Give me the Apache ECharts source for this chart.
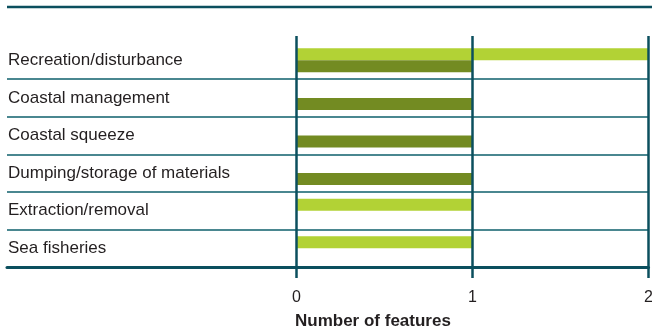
<!DOCTYPE html>
<html>
<head>
<meta charset="utf-8">
<script src="https://cdn.jsdelivr.net/npm/echarts@6/dist/echarts.min.js"></script>
<style>
  html, body { margin: 0; padding: 0; background: #fff; }
  #chart { width: 652px; height: 332px; }
</style>
</head>
<body>
<div id="chart"></div>
<script>
// pressure categories, top to bottom
let categories = ['Recreation/disturbance', 'Coastal management', 'Coastal squeeze',
    'Dumping/storage of materials', 'Extraction/removal', 'Sea fisheries'];
// light green series and dark green series (number of features)
let lightValues = [2, null, null, null, 1, 1];
let darkValues = [1, 1, 1, 1, null, null];
let xTicks = [0, 1, 2];

let teal = '#0b4f5e';
let font = '"Liberation Sans", Arial, sans-serif';

let myChart = echarts.init(document.getElementById('chart'));
let option = {
    animation: false,
    textStyle: { fontFamily: font },
    title: {
        text: 'Number of features',
        left: 295,
        top: 313,
        padding: 0,
        textStyle: { fontFamily: font, fontSize: 17, fontWeight: 'bold', color: '#231f20' }
    },
    graphic: [{
        type: 'line',
        shape: { x1: 7, y1: 7, x2: 652, y2: 7 },
        style: { stroke: teal, lineWidth: 2.5 }
    }],
    grid: [
        // grid with the value gridlines and tick labels
        { left: 296.5, right: 3.5, top: 36, bottom: 54, outerBoundsMode: 'none' },
        // grid with the bars and row separators
        { left: 7, right: 3.5, top: 41.5, bottom: 65, outerBoundsMode: 'none' }
    ],
    xAxis: [
        {
            gridIndex: 0,
            type: 'value',
            min: xTicks[0],
            max: xTicks[xTicks.length - 1],
            interval: 1,
            axisLine: { show: false },
            axisTick: { show: false },
            axisLabel: { fontSize: 16, color: '#231f20', margin: 12 },
            splitLine: { lineStyle: { color: teal, width: 2.5 } },
            z: 5
        },
        {
            gridIndex: 1,
            type: 'value',
            // extend the scale left so the row lines run under the labels
            min: -1.645,
            max: 2,
            axisLabel: { show: false },
            axisTick: { show: false },
            splitLine: { show: false },
            axisLine: { show: true, lineStyle: { color: teal, width: 3 } }
        }
    ],
    yAxis: [
        { gridIndex: 0, type: 'value', show: false },
        {
            gridIndex: 1,
            type: 'category',
            inverse: true,
            data: categories,
            axisLine: { show: false },
            axisTick: { show: false },
            axisLabel: {
                inside: true,
                margin: 1,
                fontSize: 17,
                color: '#231f20',
                padding: [3, 0, 0, 0]
            },
            splitLine: {
                show: true,
                lineStyle: {
                    color: ['rgba(0,0,0,0)', '#4a8790', '#4a8790', '#4a8790', '#4a8790', '#4a8790', 'rgba(0,0,0,0)'],
                    width: 2
                }
            }
        }
    ],
    series: [
        {
            type: 'bar',
            xAxisIndex: 1,
            yAxisIndex: 1,
            data: lightValues,
            barWidth: 12,
            barGap: '0%',
            itemStyle: { color: '#b2d235' }
        },
        {
            type: 'bar',
            xAxisIndex: 1,
            yAxisIndex: 1,
            data: darkValues,
            barWidth: 12,
            barGap: '0%',
            itemStyle: { color: '#738b22' }
        }
    ]
};
myChart.setOption(option);
</script>
</body>
</html>
